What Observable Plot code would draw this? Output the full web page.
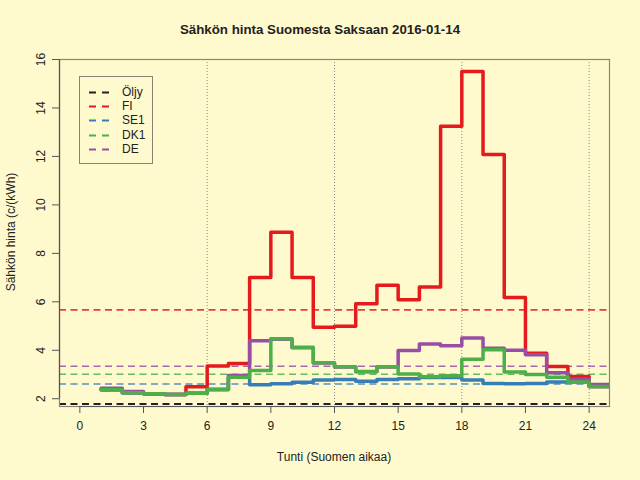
<!DOCTYPE html>
<html>
<head>
<meta charset="utf-8">
<script src="https://cdn.jsdelivr.net/npm/d3@7"></script>
<script src="https://cdn.jsdelivr.net/npm/@observablehq/plot@0.6"></script>
<style>
  html, body { margin: 0; padding: 0; background: #FFFACD; }
  #wrap { position: relative; width: 640px; height: 480px; font-family: "Liberation Sans", Arial, sans-serif; color: #222; }
  #chart { position: absolute; left: 0; top: 0; }
  .txt { position: absolute; white-space: nowrap; }
  #title { left: 0; width: 640px; top: 22px; text-align: center; font-weight: bold; font-size: 13.3px; }
  #xlab { left: 59px; width: 550px; top: 450px; text-align: center; font-size: 12px; }
  #ylab { left: 11px; top: 232px; font-size: 12px; transform: translate(-50%, -50%) rotate(-90deg); }
  #legend { position: absolute; left: 79px; top: 76px; width: 72px; height: 86px; border: 1px solid #8a8272; }
</style>
</head>
<body>
<div id="wrap">
  <div id="chart"></div>
  <div id="title" class="txt">Sähkön hinta Suomesta Saksaan 2016-01-14</div>
  <div id="xlab" class="txt">Tunti (Suomen aikaa)</div>
  <div id="ylab" class="txt">Sähkön hinta (c/(kWh)</div>
  <div id="legend"></div>
</div>
<script>
// ---- data ----
const hours = [1,2,3,4,5,6,7,8,9,10,11,12,13,14,15,16,17,18,19,20,21,22,23,24];
const FI  = [2.37,2.25,2.21,2.18,2.50,3.35,3.45,7.00,8.87,7.00,4.95,4.99,5.92,6.68,6.09,6.61,13.25,15.50,12.08,6.18,3.88,3.33,2.92,2.51];
const SE1 = [2.37,2.25,2.21,2.18,2.23,2.38,2.89,2.58,2.62,2.68,2.77,2.79,2.72,2.79,2.83,2.88,2.88,2.77,2.63,2.62,2.63,2.69,2.69,2.51];
const DK1 = [2.37,2.25,2.21,2.18,2.23,2.38,2.89,3.17,4.48,4.12,3.49,3.32,3.12,3.32,3.02,2.91,2.95,3.63,4.02,3.10,3.00,2.89,2.69,2.51];
const DE  = [2.43,2.30,2.21,2.18,2.23,2.38,2.96,4.39,4.46,4.10,3.48,3.31,3.11,3.31,3.99,4.26,4.19,4.51,4.08,4.00,3.82,3.07,2.80,2.59];
const oljy = 1.78;
const legendLabels = ["Öljy", "FI", "SE1", "DK1", "DE"];
const legendColors = ["#222222", "#E41A1C", "#377EB8", "#4DAF4A", "#984EA3"];
const xTicks = [0,3,6,9,12,15,18,21,24];
const yTicks = [2,4,6,8,10,12,14,16];
const gridX = [6,12,18,24];

// ---- build tables ----
const seriesData = {FI, SE1, DK1, DE};
function stepRows(name) {
  const v = seriesData[name];
  const rows = hours.map((h, i) => ({hour: h, value: v[i], series: name}));
  rows.push({hour: hours[hours.length - 1] + 1, value: v[v.length - 1], series: name});
  return rows;
}
const means = ["FI","SE1","DK1","DE"].map(n => ({series: n, value: d3.mean(seriesData[n])}));
const colorDomain = legendLabels;
const colorRange = legendColors;

const dash = "7,4.5";
const chart = Plot.plot({
  width: 640,
  height: 480,
  marginLeft: 59,
  marginRight: 31,
  marginTop: 59,
  marginBottom: 74,
  style: {background: "transparent", fontFamily: "Liberation Sans, Arial, sans-serif", fontSize: "12px", color: "#222"},
  x: {domain: [-0.96, 24.96]},
  y: {domain: [1.68, 16.0]},
  color: {domain: colorDomain, range: colorRange},
  marks: [
    Plot.ruleX(gridX, {stroke: "#8a8a8a", strokeDasharray: "1,2", strokeWidth: 1}),
    Plot.ruleY([oljy], {stroke: colorRange[0], strokeDasharray: dash, strokeWidth: 2}),
    Plot.ruleY(means, {y: "value", stroke: "series", strokeDasharray: dash, strokeWidth: 1.6, strokeOpacity: 0.85}),
    Plot.line(stepRows("FI"), {x: "hour", y: "value", stroke: "series", curve: "step-after", strokeWidth: 3.5, clip: true}),
    Plot.line(stepRows("SE1"), {x: "hour", y: "value", stroke: "series", curve: "step-after", strokeWidth: 3.5, clip: true}),
    Plot.line(stepRows("DE"), {x: "hour", y: "value", stroke: "series", curve: "step-after", strokeWidth: 3.5, clip: true}),
    Plot.line(stepRows("DK1"), {x: "hour", y: "value", stroke: "series", curve: "step-after", strokeWidth: 3.5, clip: true}),
    Plot.frame({stroke: "#8c8474", strokeWidth: 1.2}),
    Plot.ruleY([1.68], {x1: xTicks[0], x2: xTicks[xTicks.length - 1], stroke: "#555", strokeWidth: 1.2}),
    Plot.ruleX([-0.96], {y1: yTicks[0], y2: yTicks[yTicks.length - 1], stroke: "#555", strokeWidth: 1.2}),
    Plot.axisX({ticks: xTicks, tickSize: 7, tickPadding: 8, stroke: "#555", fill: "#222", fontSize: 12, label: null}),
    Plot.axisY({ticks: yTicks, tickSize: 7, tickPadding: 8, tickRotate: -90, stroke: "#555", fill: "#222", fontSize: 12, label: null})
  ]
});
document.getElementById("chart").appendChild(chart);

// ---- legend (HTML + small svg swatches) ----
const leg = d3.select("#legend");
legendLabels.forEach((lab, i) => {
  const row = leg.append("div")
    .style("position", "absolute")
    .style("left", "0px")
    .style("top", (8 + i * 14.2) + "px")
    .style("height", "14px")
    .style("width", "72px");
  const svg = row.append("svg").attr("width", 40).attr("height", 14)
    .style("position", "absolute").style("left", "0px").style("top", "0px");
  svg.append("line").attr("x1", 9).attr("x2", 29).attr("y1", 7.5).attr("y2", 7.5)
    .attr("stroke", legendColors[i]).attr("stroke-width", 2).attr("stroke-dasharray", "7,6");
  row.append("span").text(lab)
    .style("position", "absolute").style("left", "42px").style("top", "0px")
    .style("font-size", "12px").style("line-height", "14px");
});
</script>
</body>
</html>
